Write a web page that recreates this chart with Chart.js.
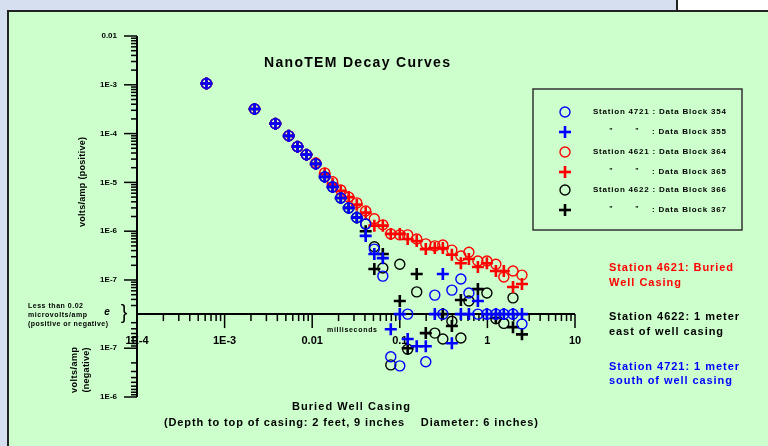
<!DOCTYPE html>
<html lang="en">
<head>
<meta charset="UTF-8">
<title>NanoTEM Decay Curves</title>
<script src="https://cdn.jsdelivr.net/npm/chart.js"></script>
<style>
  body {
    margin: 0;
    width: 768px;
    height: 446px;
    overflow: hidden;
    position: relative;
    background: #d5dff0;
  }
  .panel {
    position: absolute;
    left: 7px;
    top: 10px;
    width: 775px;
    height: 450px;
    background: #ccffcc;
    border: 2px solid #222;
    box-sizing: border-box;
  }
  .corner {
    position: absolute;
    left: 676px;
    top: 0;
    width: 100px;
    height: 10px;
    background: #fff;
    border-left: 2px solid #222;
  }
  canvas {
    position: absolute;
    left: 0;
    top: 0;
  }
</style>
</head>
<body>
<div class="panel"></div>
<div class="corner"></div>
<canvas id="decay" width="768" height="446"></canvas>

<script>
  // time gates (milliseconds) shared by all data blocks
  const GATES_MS = [6.2e-4, 2.2e-3, 3.8e-3, 5.4e-3, 6.8e-3, 8.6e-3, 0.011, 0.0139, 0.0171, 0.0212,
    0.0261, 0.0323, 0.0408, 0.0512, 0.064, 0.0789, 0.1, 0.123, 0.156, 0.198,
    0.251, 0.31, 0.393, 0.498, 0.615, 0.779, 0.987, 1.25, 1.54, 1.96, 2.48];

  // volts/amp, negative = negative reading, 0 = less than 0.02 microvolts/amp, null = none
  const BLOCK_354 = [1.06e-3, 3.2e-4, 1.6e-4, 9.0e-5, 5.4e-5, 3.7e-5, 2.4e-5, 1.3e-5, 8.1e-6, 4.8e-6,
    3.0e-6, 1.9e-6, 1.4e-6, 4.3e-7, 1.2e-7, -1.5e-7, -2.3e-7, 0, null, -1.9e-7,
    4.9e-8, 0, 6.2e-8, 1.05e-7, 5.4e-8, 0, 0, 0, 0, 0, -3.2e-8];
  const BLOCK_355 = [1.06e-3, 3.2e-4, 1.6e-4, 9.0e-5, 5.4e-5, 3.7e-5, 2.4e-5, 1.3e-5, 8.1e-6, 4.8e-6,
    3.0e-6, 1.9e-6, 8.0e-7, 3.4e-7, 2.8e-7, -4.1e-8, 0, -6.5e-8, -9.1e-8, -9.1e-8,
    0, 1.33e-7, -7.9e-8, 0, 0, 3.7e-8, 0, 0, 0, 0, 0];
  const BLOCK_364 = [1.06e-3, 3.2e-4, 1.6e-4, 9.0e-5, 5.4e-5, 3.7e-5, 2.5e-5, 1.57e-5, 1.03e-5, 7.0e-6,
    5.0e-6, 3.8e-6, 2.6e-6, 1.8e-6, 1.35e-6, 8.8e-7, 8.4e-7, 8.4e-7, 6.9e-7, 5.5e-7,
    5.0e-7, 5.2e-7, 4.1e-7, 3.1e-7, 3.7e-7, 2.45e-7, 2.45e-7, 2.1e-7, 1.15e-7, 1.53e-7, 1.26e-7];
  const BLOCK_365 = [1.06e-3, 3.2e-4, 1.6e-4, 9.0e-5, 5.4e-5, 3.7e-5, 2.4e-5, 1.5e-5, 9.3e-6, 6.7e-6,
    5.0e-6, 3.5e-6, 2.4e-6, 1.3e-6, 1.3e-6, 8.8e-7, 8.8e-7, 6.9e-7, 6.3e-7, 4.3e-7,
    4.5e-7, 4.5e-7, 3.3e-7, 2.2e-7, 2.7e-7, 1.85e-7, 2.2e-7, 1.53e-7, 1.53e-7, 7.2e-8, 8.3e-8];
  const BLOCK_366 = [1.06e-3, 3.2e-4, 1.6e-4, 9.0e-5, 5.4e-5, 3.7e-5, 2.4e-5, 1.3e-5, 8.1e-6, 4.8e-6,
    3.0e-6, 1.9e-6, 1.4e-6, 4.8e-7, 1.76e-7, -2.2e-7, 2.1e-7, -1.05e-7, 5.7e-8, null,
    -4.9e-8, -6.5e-8, -2.8e-8, -6.2e-8, 3.7e-8, null, 5.4e-8, -2.5e-8, -3.1e-8, 4.3e-8, null];
  const BLOCK_367 = [1.06e-3, 3.2e-4, 1.6e-4, 9.0e-5, 5.4e-5, 3.7e-5, 2.4e-5, 1.3e-5, 8.1e-6, 4.8e-6,
    3.0e-6, 1.9e-6, 1.0e-6, 1.68e-7, 3.4e-7, null, 3.7e-8, -1.0e-7, 1.33e-7, -4.9e-8,
    null, 0, -3.5e-8, 3.9e-8, null, 6.5e-8, null, -2.4e-8, null, -3.7e-8, -5.2e-8];

  const X_TICKS = [1e-4, 1e-3, 0.01, 0.1, 1, 10];
  const X_TICK_LABELS = ['1E-4', '1E-3', '0.01', '0.1', '1', '10'];
  const Y_POS_TICKS = [1e-2, 1e-3, 1e-4, 1e-5, 1e-6, 1e-7];
  const Y_POS_LABELS = ['0.01', '1E-3', '1E-4', '1E-5', '1E-6', '1E-7'];
  const Y_NEG_TICKS = [-1e-7, -1e-6];
  const Y_NEG_LABELS = ['1E-7', '1E-6'];

  const FLOOR = 2e-8; // 0.02 microvolts/amp, drawn as the zero line

  // signed decades above the floor
  function toY(v) {
    if (v === 0) return 0;
    const d = Math.log10(Math.abs(v) / FLOOR);
    return v > 0 ? Math.max(0, d) : -Math.max(0, d);
  }

  function points(values) {
    const out = [];
    values.forEach((v, i) => {
      if (v !== null) out.push({ x: GATES_MS[i], y: toY(v) });
    });
    return out;
  }

  const BLUE = '#0000ff', RED = '#ff0000', BLACK = '#000000';

  function circleSet(label, values, color) {
    return { label, data: points(values), pointStyle: 'circle', pointRadius: 5, pointBorderWidth: 1.4,
      borderColor: color, backgroundColor: 'rgba(0,0,0,0)', showLine: false, clip: false };
  }
  function plusSet(label, values, color) {
    return { label, data: points(values), pointStyle: 'cross', pointRadius: 6, pointBorderWidth: 2.6,
      borderColor: color, backgroundColor: color, showLine: false, clip: false };
  }

  function drawText(ctx, s, x, y, opt) {
    ctx.save();
    ctx.font = opt.font;
    ctx.fillStyle = opt.color || '#000';
    ctx.textBaseline = 'middle';
    ctx.textAlign = 'left';
    let w = ctx.measureText(s).width;
    let sx = 1;
    if (opt.width) {
      const extra = (opt.width - w) / Math.max(1, s.length - 1);
      if (extra > 0 && 'letterSpacing' in ctx) {
        ctx.letterSpacing = extra + 'px';
      } else {
        sx = opt.width / w;
      }
      w = opt.width;
    }
    let left = x;
    if (opt.align === 'center') left = x - w / 2;
    else if (opt.align === 'right') left = x - w;
    if (opt.rotate) {
      ctx.translate(x, y);
      ctx.rotate(opt.rotate);
      ctx.scale(sx, 1);
      ctx.fillText(s, -w / 2 / sx, 0);
    } else {
      ctx.translate(left, y);
      ctx.scale(sx, 1);
      ctx.fillText(s, 0, 0);
    }
    ctx.restore();
  }

  function seg(ctx, x1, y1, x2, y2) {
    ctx.beginPath();
    ctx.moveTo(x1, y1);
    ctx.lineTo(x2, y2);
    ctx.stroke();
  }

  const frame = {
    id: 'frame',
    beforeDatasetsDraw(chart) {
      const ctx = chart.ctx;
      const xs = chart.scales.x, ys = chart.scales.y;
      const ax = xs.getPixelForValue(1e-4);
      const zeroY = ys.getPixelForValue(0);
      ctx.save();
      ctx.strokeStyle = '#000';

      // y axis
      ctx.lineWidth = 2;
      seg(ctx, ax, ys.top, ax, ys.bottom);
      ctx.lineWidth = 1.5;
      Y_POS_TICKS.concat(Y_NEG_TICKS).forEach(v => {
        const py = ys.getPixelForValue(toY(v));
        seg(ctx, ax - 13, py, ax, py);
      });
      for (let n = -8; n <= -3; n++) {
        for (let k = 2; k <= 9; k++) {
          if (n === -8 && k < 3) continue;
          const v = k * Math.pow(10, n);
          let py = ys.getPixelForValue(toY(v));
          seg(ctx, ax - 6, py, ax, py);
          if (n <= -7) {
            py = ys.getPixelForValue(toY(-v));
            seg(ctx, ax - 6, py, ax, py);
          }
        }
      }
      Y_POS_TICKS.forEach((v, i) => drawText(ctx, Y_POS_LABELS[i], 117, ys.getPixelForValue(toY(v)),
        { font: 'bold 8px "Liberation Sans", Arial, sans-serif', align: 'right' }));
      Y_NEG_TICKS.forEach((v, i) => drawText(ctx, Y_NEG_LABELS[i], 117, ys.getPixelForValue(toY(v)),
        { font: 'bold 8px "Liberation Sans", Arial, sans-serif', align: 'right' }));

      // x axis on the zero line
      ctx.lineWidth = 2;
      seg(ctx, ax, zeroY, xs.getPixelForValue(10), zeroY);
      ctx.lineWidth = 1.5;
      X_TICKS.forEach((t, i) => {
        const px = xs.getPixelForValue(t);
        seg(ctx, px, zeroY, px, zeroY + 14);
        drawText(ctx, X_TICK_LABELS[i], px, 341,
          { font: 'bold 11px "Liberation Sans", Arial, sans-serif', align: 'center' });
      });
      for (let n = -4; n < 1; n++) {
        for (let k = 2; k <= 9; k++) {
          const px = xs.getPixelForValue(k * Math.pow(10, n));
          seg(ctx, px, zeroY, px, zeroY + 7);
        }
      }
      ctx.restore();

      const F = '"Liberation Sans", Arial, sans-serif';
      drawText(ctx, 'milliseconds', 327, 330, { font: 'bold 7px ' + F, width: 50 });
      drawText(ctx, 'NanoTEM Decay Curves', 357, 63, { font: 'bold 14px ' + F, align: 'center', width: 186 });

      // axis titles
      drawText(ctx, 'volts/amp (positive)', 83, 182, { font: 'bold 9px ' + F, width: 90, rotate: -Math.PI / 2 });
      drawText(ctx, 'volts/amp', 75, 370, { font: 'bold 9px ' + F, width: 46, rotate: -Math.PI / 2 });
      drawText(ctx, '(negative)', 87, 370, { font: 'bold 9px ' + F, width: 45, rotate: -Math.PI / 2 });
      drawText(ctx, 'Less than 0.02', 28, 306, { font: 'bold 7px ' + F, width: 55 });
      drawText(ctx, 'microvolts/amp', 28, 315, { font: 'bold 7px ' + F, width: 59 });
      drawText(ctx, '(positive or negative)', 28, 324, { font: 'bold 7px ' + F, width: 80 });
      drawText(ctx, 'e', 107, 312, { font: 'bold italic 10px ' + F, align: 'center' });
      drawText(ctx, '}', 124, 313, { font: '20px ' + F, align: 'center' });

      // bottom captions
      drawText(ctx, 'Buried Well Casing', 351, 407, { font: 'bold 11px ' + F, align: 'center', width: 118 });
      drawText(ctx, '(Depth to top of casing: 2 feet, 9 inches    Diameter: 6 inches)', 351, 423,
        { font: 'bold 11px ' + F, align: 'center', width: 374 });

      // side notes
      const notes = [
        ['Station 4621: Buried', 268, RED, 124], ['Well Casing', 283, RED, 72],
        ['Station 4622: 1 meter', 317, BLACK, 130], ['east of well casing', 332, BLACK, 114],
        ['Station 4721: 1 meter', 367, BLUE, 130], ['south of well casing', 381, BLUE, 123]
      ];
      notes.forEach(n => drawText(ctx, n[0], 609, n[1], { font: 'bold 11px ' + F, color: n[2], width: n[3] }));

      // legend box
      ctx.save();
      ctx.strokeStyle = '#333';
      ctx.lineWidth = 1.5;
      ctx.strokeRect(533, 89, 209, 141);
      const rows = [
        ['circle', BLUE, 'Station 4721 : Data Block 354'],
        ['cross', BLUE, ': Data Block 355'],
        ['circle', RED, 'Station 4621 : Data Block 364'],
        ['cross', RED, ': Data Block 365'],
        ['circle', BLACK, 'Station 4622 : Data Block 366'],
        ['cross', BLACK, ': Data Block 367']
      ];
      const rowY = [112, 132, 152, 172, 190, 210];
      rows.forEach((r, i) => {
        const y = rowY[i];
        ctx.strokeStyle = r[1];
        if (r[0] === 'circle') {
          ctx.lineWidth = 1.4;
          ctx.beginPath();
          ctx.arc(565, y, 5, 0, Math.PI * 2);
          ctx.stroke();
          drawText(ctx, r[2], 593, y, { font: 'bold 8px ' + F, width: 133 });
        } else {
          ctx.lineWidth = 2.6;
          seg(ctx, 559, y, 571, y);
          seg(ctx, 565, y - 6, 565, y + 6);
          drawText(ctx, '"', 611, y - 1, { font: 'bold 7px ' + F, align: 'center' });
          drawText(ctx, '"', 637, y - 1, { font: 'bold 7px ' + F, align: 'center' });
          drawText(ctx, r[2], 652, y, { font: 'bold 8px ' + F, width: 74 });
        }
      });
      ctx.restore();
    }
  };

  const ctx = document.getElementById('decay').getContext('2d');
  new Chart(ctx, {
    type: 'scatter',
    data: {
      datasets: [
        circleSet('Station 4721 : Data Block 354', BLOCK_354, BLUE),
        plusSet('Station 4721 : Data Block 355', BLOCK_355, BLUE),
        circleSet('Station 4621 : Data Block 364', BLOCK_364, RED),
        plusSet('Station 4621 : Data Block 365', BLOCK_365, RED),
        circleSet('Station 4622 : Data Block 366', BLOCK_366, BLACK),
        plusSet('Station 4622 : Data Block 367', BLOCK_367, BLACK)
      ]
    },
    options: {
      responsive: false,
      animation: false,
      layout: { padding: { left: 137, right: 193, top: 36, bottom: 49 } },
      plugins: {
        legend: { display: false },
        tooltip: { enabled: false }
      },
      scales: {
        x: { type: 'logarithmic', min: 1e-4, max: 10, display: false },
        y: { type: 'linear', min: -toY(1e-6), max: toY(1e-2), display: false }
      }
    },
    plugins: [frame]
  });
</script>
</body>
</html>
